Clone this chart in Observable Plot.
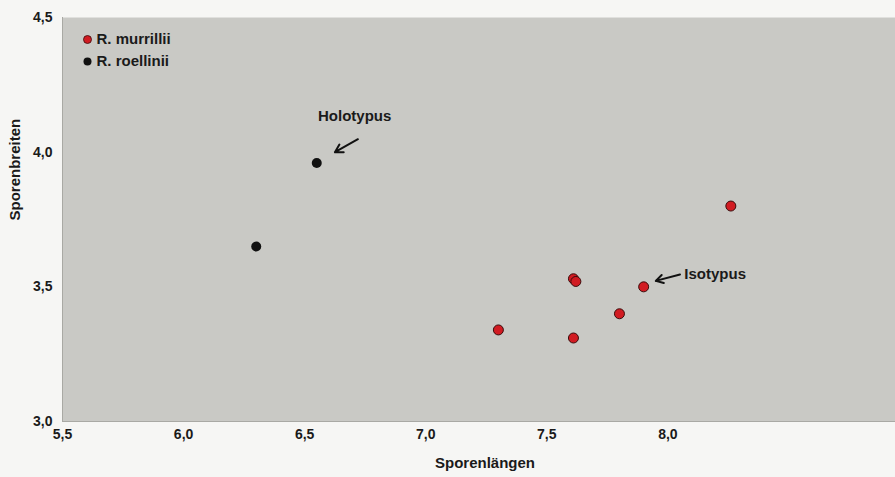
<!DOCTYPE html>
<html>
<head>
<meta charset="utf-8">
<script src="https://cdn.jsdelivr.net/npm/d3@7"></script>
<script src="https://cdn.jsdelivr.net/npm/@observablehq/plot@0.6"></script>
<style>
  html, body { margin: 0; padding: 0; background: #f6f6f4; }
  #chart { width: 895px; height: 477px; }
</style>
</head>
<body>
<div id="chart"></div>
<script>
// ---- data ----
const series = ["R. murrillii", "R. roellinii"];
const seriesColors = ["#d11b22", "#111111"];
const murrilliiLength = [8.26, 7.61, 7.62, 7.90, 7.80, 7.30, 7.61];
const murrilliiWidth  = [3.80, 3.53, 3.52, 3.50, 3.40, 3.34, 3.31];
const roelliniiLength = [6.30, 6.55];
const roelliniiWidth  = [3.65, 3.96];
const xTicks = [5.5, 6.0, 6.5, 7.0, 7.5, 8.0];
const yTicks = [3.0, 3.5, 4.0, 4.5];
const annotationLabels = ["Holotypus", "Isotypus"];
const annotationTextX = [6.555, 8.068];
const annotationTextY = [4.135, 3.546];
const arrowFromX = [6.72, 8.05];
const arrowFromY = [4.048, 3.546];
const arrowToX = [6.625, 7.95];
const arrowToY = [4.000, 3.522];
const xLabel = "Sporenlängen";
const yLabel = "Sporenbreiten";

// ---- tables ----
const points = [
  ...murrilliiLength.map((x, i) => ({x, y: murrilliiWidth[i], s: series[0]})),
  ...roelliniiLength.map((x, i) => ({x, y: roelliniiWidth[i], s: series[1]}))
];
const annots = annotationLabels.map((t, i) => ({
  t, tx: annotationTextX[i], ty: annotationTextY[i],
  x1: arrowFromX[i], y1: arrowFromY[i], x2: arrowToX[i], y2: arrowToY[i]
}));
const fmt = d => d.toFixed(1).replace(".", ",");
const font = "'Liberation Sans', Arial, sans-serif";

const legendMarks = series.flatMap((s, i) => [
  Plot.dot([s], {frameAnchor: "top-left", dx: 25, dy: 22 + i * 22, r: 4,
    fill: seriesColors[i], stroke: i === 0 ? "#3b0c0c" : "none", strokeWidth: 0.8}),
  Plot.text([s], {frameAnchor: "top-left", dx: 34, dy: 22 + i * 22, text: d => d,
    textAnchor: "start", lineAnchor: "middle", fontSize: 15, fontWeight: "bold", fill: "#1a1a1a"})
]);

const chart = Plot.plot({
  width: 895,
  height: 477,
  marginLeft: 62,
  marginRight: 0,
  marginTop: 17,
  marginBottom: 56,
  style: {background: "transparent", fontFamily: font, fontWeight: "bold", fontSize: "14px", color: "#1a1a1a"},
  x: {domain: [5.5, 8.94], ticks: xTicks, tickFormat: fmt, tickSize: 0, tickPadding: 8, label: null},
  y: {domain: [3.0, 4.5], ticks: yTicks, tickFormat: fmt, tickSize: 0, tickPadding: 10, label: null},
  color: {domain: series, range: seriesColors},
  marks: [
    Plot.frame({fill: "#c9c9c5", stroke: null}),
    Plot.ruleX([5.5], {stroke: "#a9a9a4", strokeWidth: 1}),
    Plot.ruleY([3.0], {stroke: "#a9a9a4", strokeWidth: 1}),
    Plot.axisX({ticks: xTicks, tickFormat: fmt, tickSize: 0, tickPadding: 8, fontSize: 14, fontWeight: "bold", label: null}),
    Plot.axisY({ticks: yTicks, tickFormat: fmt, tickSize: 0, tickPadding: 10, fontSize: 14, fontWeight: "bold", label: null}),
    Plot.text([xLabel], {frameAnchor: "bottom", dx: 6, dy: 46, text: d => d, fontSize: 15, fontWeight: "bold", fill: "#1a1a1a"}),
    Plot.text([yLabel], {frameAnchor: "left", dx: -47, dy: 1, rotate: -90, text: d => d, fontSize: 15, fontWeight: "bold", fill: "#1a1a1a"}),
    Plot.dot(points, {x: "x", y: "y", r: 5, fill: "s",
      stroke: d => d.s === series[0] ? "#3b0c0c" : "none", strokeWidth: 1}),
    Plot.arrow(annots, {x1: "x1", y1: "y1", x2: "x2", y2: "y2", stroke: "#111", strokeWidth: 2, headLength: 8}),
    Plot.text(annots, {x: "tx", y: "ty", text: "t", textAnchor: "start",
      fontSize: 15, fontWeight: "bold", fill: "#1a1a1a"}),
    ...legendMarks
  ]
});
document.getElementById("chart").appendChild(chart);
</script>
</body>
</html>
